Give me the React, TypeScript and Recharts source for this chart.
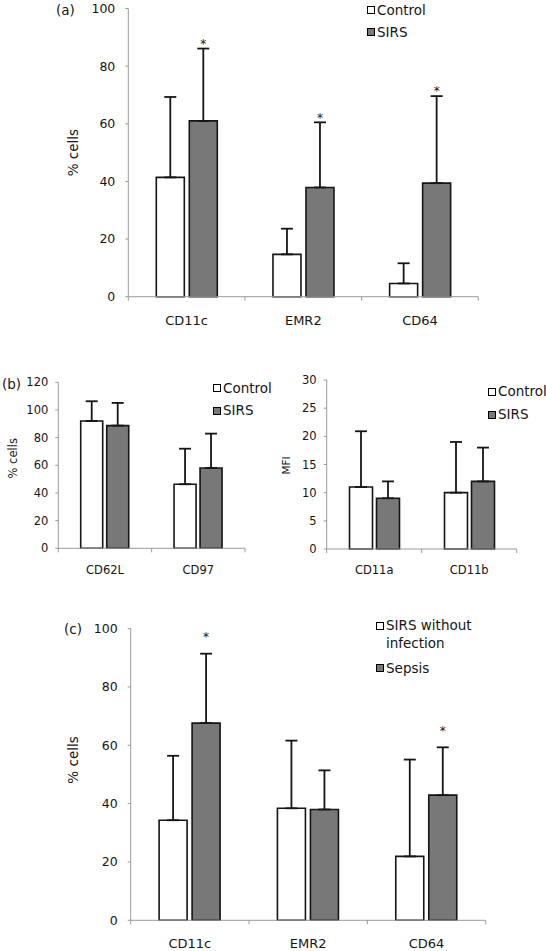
import React from "react";
import { Bar, BarChart, ErrorBar, LabelList, Legend, XAxis, YAxis } from "recharts";

const FONT = '"DejaVu Sans", Verdana, sans-serif';
const AXIS = "#9a9a9a";
const INK = "#151515";
const WHITE = "#ffffff";
const GREY = "#787878";

// (a) markers, Control vs SIRS
const markersA = ["CD11c", "EMR2", "CD64"];
const controlA = [41.4, 14.7, 4.6];
const controlSdA = [27.9, 8.9, 7.0];
const sirsA = [61.0, 37.9, 39.4];
const sirsSdA = [25.1, 22.6, 30.2];
const starsA = [true, true, true];
const ticksA = [0, 20, 40, 60, 80, 100];

// (b) left, % cells
const markersB1 = ["CD62L", "CD97"];
const controlB1 = [92.0, 46.3];
const controlSdB1 = [14.3, 25.7];
const sirsB1 = [88.7, 58.1];
const sirsSdB1 = [16.4, 24.8];
const ticksB1 = [0, 20, 40, 60, 80, 100, 120];

// (b) right, MFI
const markersB2 = ["CD11a", "CD11b"];
const controlB2 = [11.0, 10.0];
const controlSdB2 = [9.9, 9.0];
const sirsB2 = [9.0, 12.0];
const sirsSdB2 = [3.0, 6.0];
const ticksB2 = [0, 5, 10, 15, 20, 25, 30];

// (c) SIRS without infection vs sepsis
const markersC = ["CD11c", "EMR2", "CD64"];
const noInfC = [34.3, 38.4, 21.9];
const noInfSdC = [22.1, 23.2, 33.2];
const sepsisC = [67.6, 38.0, 42.9];
const sepsisSdC = [23.8, 13.4, 16.4];
const starsC = [true, false, true];
const ticksC = [0, 20, 40, 60, 80, 100];

type Series = {
  name: string;
  fill: string;
  values: number[];
  sd: number[];
  stars?: boolean[];
};

type Props = {
  left: number;
  top: number;
  width: number;
  height: number;
  margin: { top: number; right: number; bottom: number; left: number };
  yWidth: number;
  categories: string[];
  series: Series[];
  ticks: number[];
  tickFont: number;
  tickMargin: number;
  catFont: number;
  catDy: number;
  title: string;
  titleFont: number;
  titleDx: number;
  titleDy: number;
  barGap: number;
  starLift: number;
  legend: { left: number; top: number; lh: number; gap: number; textWidth?: number };
};

function CatTick(props: any) {
  const { x, y, payload, index, visibleTicksCount, width, plotW, n, fs, dy } = props;
  const band = (typeof width === "number" ? width : plotW) / (visibleTicksCount || n);
  const last = index === (visibleTicksCount || n) - 1;
  return (
    <g>
      <line x1={x - band / 2} x2={x - band / 2} y1={y} y2={y + 4} stroke={AXIS} />
      {last && <line x1={x + band / 2} x2={x + band / 2} y1={y} y2={y + 4} stroke={AXIS} />}
      <text x={x} y={y + dy + fs * 0.365} textAnchor="middle" fontSize={fs} fill={INK} fontFamily={FONT}>
        {payload.value}
      </text>
    </g>
  );
}

function GroupedBars(p: Props) {
  const rows = p.categories.map((c, i) => {
    const row: any = { name: c };
    p.series.forEach((s, k) => {
      row[`s${k}`] = s.values[i];
      row[`e${k}`] = [0, s.sd[i]];
    });
    return row;
  });
  const plotW = p.width - p.margin.left - p.margin.right - p.yWidth;
  const max = p.ticks[p.ticks.length - 1];

  const star = (s: Series) => (lp: any) => {
    const vb = lp.viewBox ?? lp;
    const i = lp.index ?? s.values.indexOf(Number(lp.value));
    if (!s.stars || !s.stars[i]) return null;
    const v = s.values[i];
    const perUnit = vb.height / v;
    const capY = vb.y - s.sd[i] * perUnit;
    return (
      <text
        key={`star-${i}`}
        x={vb.x + vb.width / 2}
        y={capY - p.starLift + 6.8}
        textAnchor="middle"
        fontSize={12}
        fill={INK}
        fontFamily={FONT}
      >
        *
      </text>
    );
  };

  const legendContent = () => (
    <div style={{ fontFamily: FONT, fontSize: 13.5, color: INK }}>
      {p.series.map((s, i) => (
        <div
          key={s.name}
          style={{ display: "flex", alignItems: "flex-start", marginTop: i ? p.legend.gap : 0, lineHeight: `${p.legend.lh}px` }}
        >
          <span
            style={{
              width: 8,
              height: 8,
              boxSizing: "border-box",
              border: "1px solid #000",
              background: s.fill,
              marginTop: (p.legend.lh - 8) / 2,
              marginRight: 2,
              flex: "none",
            }}
          />
          <span style={{ width: p.legend.textWidth, whiteSpace: p.legend.textWidth ? "normal" : "nowrap" }}>{s.name}</span>
        </div>
      ))}
    </div>
  );

  return (
    <div style={{ position: "absolute", left: p.left, top: p.top }}>
      <BarChart
        width={p.width}
        height={p.height}
        data={rows}
        margin={p.margin}
        barCategoryGap="24%"
        barGap={p.barGap}
      >
        <XAxis
          dataKey="name"
          height={30}
          interval={0}
          tickLine={false}
          tickSize={0}
          tickMargin={0}
          axisLine={{ stroke: AXIS }}
          tick={(tp: any) => (
            <CatTick {...tp} plotW={plotW} n={p.categories.length} fs={p.catFont} dy={p.catDy} />
          )}
        />
        <YAxis
          width={p.yWidth}
          domain={[0, max]}
          ticks={p.ticks}
          interval={0}
          tickSize={3}
          tickMargin={p.tickMargin}
          tickLine={{ stroke: AXIS }}
          axisLine={{ stroke: AXIS }}
          tick={{ fontSize: p.tickFont, fill: INK, fontFamily: FONT }}
          label={{
            content: (lp: any) => {
              const vb = lp.viewBox;
              const cx = vb.x + p.titleDx;
              const cy = vb.y + vb.height / 2 + p.titleDy;
              return (
                <text
                  x={cx}
                  y={cy}
                  transform={`rotate(-90 ${cx} ${cy})`}
                  textAnchor="middle"
                  dominantBaseline="central"
                  fontSize={p.titleFont}
                  fill={INK}
                  fontFamily={FONT}
                >
                  {p.title}
                </text>
              );
            },
          }}
        />
        <Legend
          layout="vertical"
          align="center"
          verticalAlign="middle"
          content={legendContent}
          wrapperStyle={{ left: p.legend.left, top: p.legend.top, width: "auto", height: "auto" }}
        />
        {p.series.map((s, k) => (
          <Bar
            key={s.name}
            dataKey={`s${k}`}
            name={s.name}
            fill={s.fill}
            stroke={INK}
            strokeWidth={1.6}
            isAnimationActive={false}
          >
            <ErrorBar dataKey={`e${k}`} direction="y" width={6} stroke={INK} strokeWidth={1.8} />
            {s.stars && <LabelList dataKey={`s${k}`} content={star(s)} />}
          </Bar>
        ))}
      </BarChart>
    </div>
  );
}

const label = (text: string, left: number, cy: number) => (
  <div
    style={{
      position: "absolute",
      left,
      top: cy - 9,
      lineHeight: "18px",
      fontSize: 13.5,
      fontFamily: FONT,
      color: INK,
    }}
  >
    {text}
  </div>
);

export default function App() {
  return (
    <div style={{ position: "absolute", left: 0, top: 0, width: 546, height: 951, background: "#fff", fontFamily: FONT }}>
      <GroupedBars
        left={0}
        top={0}
        width={546}
        height={340}
        margin={{ top: 8.5, right: 67.7, bottom: 13.3, left: 68.3 }}
        yWidth={60}
        categories={markersA}
        series={[
          { name: "Control", fill: WHITE, values: controlA, sd: controlSdA },
          { name: "SIRS", fill: GREY, values: sirsA, sd: sirsSdA, stars: starsA },
        ]}
        ticks={ticksA}
        tickFont={12.5}
        tickMargin={10}
        catFont={13}
        catDy={23.3}
        title="% cells"
        titleFont={13.5}
        titleDx={5}
        titleDy={0}
        barGap={5}
        starLift={7.5}
        legend={{ left: 367, top: 1.5, lh: 17, gap: 5.3 }}
      />
      <GroupedBars
        left={0}
        top={370}
        width={270}
        height={210}
        margin={{ top: 12.3, right: 25, bottom: 1.7, left: 8.3 }}
        yWidth={50}
        categories={markersB1}
        series={[
          { name: "Control", fill: WHITE, values: controlB1, sd: controlSdB1 },
          { name: "SIRS", fill: GREY, values: sirsB1, sd: sirsSdB1 },
        ]}
        ticks={ticksB1}
        tickFont={11.5}
        tickMargin={7}
        catFont={11.5}
        catDy={21.7}
        title="% cells"
        titleFont={11.5}
        titleDx={5}
        titleDy={-7}
        barGap={4}
        starLift={7.5}
        legend={{ left: 213, top: 9.8, lh: 17, gap: 5.4 }}
      />
      <GroupedBars
        left={270}
        top={370}
        width={276}
        height={210}
        margin={{ top: 10, right: 29.3, bottom: 1, left: 6.7 }}
        yWidth={50}
        categories={markersB2}
        series={[
          { name: "Control", fill: WHITE, values: controlB2, sd: controlSdB2 },
          { name: "SIRS", fill: GREY, values: sirsB2, sd: sirsSdB2 },
        ]}
        ticks={ticksB2}
        tickFont={11.5}
        tickMargin={7}
        catFont={11.5}
        catDy={21}
        title="MFI"
        titleFont={10.5}
        titleDx={9.6}
        titleDy={1}
        barGap={4}
        starLift={7.5}
        legend={{ left: 218, top: 13.2, lh: 17, gap: 6.3 }}
      />
      <GroupedBars
        left={0}
        top={590}
        width={546}
        height={361}
        margin={{ top: 38.6, right: 60.3, bottom: 0.7, left: 70.7 }}
        yWidth={60}
        categories={markersC}
        series={[
          { name: "SIRS without infection", fill: WHITE, values: noInfC, sd: noInfSdC },
          { name: "Sepsis", fill: GREY, values: sepsisC, sd: sepsisSdC, stars: starsC },
        ]}
        ticks={ticksC}
        tickFont={12.5}
        tickMargin={10}
        catFont={13}
        catDy={23}
        title="% cells"
        titleFont={13.5}
        titleDx={2.3}
        titleDy={-14.5}
        barGap={5}
        starLift={19.5}
        legend={{ left: 376, top: 27.4, lh: 17.3, gap: 7.7, textWidth: 100 }}
      />
      {label("(a)", 56, 10)}
      {label("(b)", 2, 384)}
      {label("(c)", 64, 629)}
    </div>
  );
}
